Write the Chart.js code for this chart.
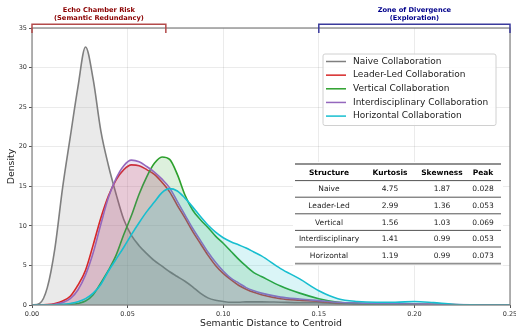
<!DOCTYPE html>
<html>
<head>
<meta charset="utf-8">
<script src="https://cdn.jsdelivr.net/npm/chart.js@4.4.1/dist/chart.umd.min.js"></script>
<style>
  html, body { margin: 0; padding: 0; background: #fff; }
  #wrap { width: 516px; height: 331px; }
</style>
</head>
<body>
<div id="wrap"><canvas id="kdeChart" width="516" height="331"></canvas></div>
<script>
// 横轴取样点 (语义距离)
const distances = [0, 0.004, 0.008, 0.012, 0.016, 0.020, 0.024, 0.028, 0.032, 0.036, 0.040, 0.044, 0.048, 0.052, 0.056, 0.060,
  0.064, 0.068, 0.072, 0.076, 0.080, 0.084, 0.088, 0.092, 0.096, 0.100, 0.104, 0.108, 0.112, 0.116, 0.120,
  0.13, 0.14, 0.15, 0.16, 0.17, 0.18, 0.19, 0.20, 0.21, 0.22, 0.23, 0.24, 0.25];

// 各结构的密度曲线
const naive = [0, 0.2, 2.2, 7.2, 14.8, 21.2, 27.5, 32.6, 28.5, 22.0, 17.6, 14.0, 10.8, 8.8, 7.5, 6.5,
  5.6, 4.9, 4.2, 3.6, 3.0, 2.3, 1.5, 0.9, 0.6, 0.45, 0.35, 0.35, 0.4, 0.4, 0.4,
  0.35, 0.3, 0.3, 0.15, 0.1, 0.1, 0.1, 0.1, 0.05, 0.02, 0, 0, 0];
const leaderLed = [0, 0, 0.05, 0.2, 0.5, 1.1, 2.5, 4.4, 7.6, 11.0, 13.8, 15.8, 17.1, 17.7, 17.6, 17.1,
  16.5, 15.5, 14.3, 12.6, 11.0, 9.3, 7.8, 6.3, 5.0, 4.0, 3.2, 2.5, 2.0, 1.6, 1.3,
  0.8, 0.6, 0.45, 0.3, 0.2, 0.15, 0.12, 0.1, 0.08, 0.05, 0.02, 0, 0];
const vertical = [0, 0, 0, 0, 0.02, 0.08, 0.2, 0.5, 1.3, 2.8, 4.4, 6.3, 8.9, 11.3, 14.0, 16.2,
  17.9, 18.7, 18.4, 16.5, 13.9, 12.0, 10.8, 9.8, 8.7, 7.8, 6.8, 5.8, 4.9, 4.1, 3.6,
  2.4, 1.5, 0.8, 0.35, 0.2, 0.12, 0.08, 0.05, 0.03, 0.02, 0, 0, 0];
const interdisciplinary = [0, 0, 0.02, 0.1, 0.3, 0.8, 1.9, 3.8, 6.6, 10.2, 13.6, 16.0, 17.6, 18.3, 18.1, 17.5,
  16.8, 15.9, 14.8, 13.1, 11.4, 9.7, 8.2, 6.7, 5.4, 4.3, 3.4, 2.8, 2.2, 1.8, 1.5,
  1.0, 0.75, 0.55, 0.35, 0.25, 0.2, 0.15, 0.12, 0.1, 0.05, 0.02, 0, 0];
const horizontal = [0, 0, 0, 0.02, 0.08, 0.2, 0.4, 0.8, 1.5, 2.6, 4.3, 5.8, 7.3, 8.9, 10.4, 11.8,
  13.0, 14.2, 14.7, 14.4, 13.5, 12.4, 11.2, 10.1, 9.2, 8.5, 8.0, 7.6, 7.2, 6.7, 6.2,
  4.6, 3.3, 1.8, 0.8, 0.45, 0.35, 0.35, 0.45, 0.3, 0.1, 0.03, 0, 0];

const seriesNames = ['Naive Collaboration', 'Leader-Led Collaboration', 'Vertical Collaboration',
  'Interdisciplinary Collaboration', 'Horizontal Collaboration'];
const seriesValues = [naive, leaderLed, vertical, interdisciplinary, horizontal];
const seriesColors = ['#7f7f7f', '#d62728', '#2ca02c', '#9467bd', '#17becf'];

// 刻度
const xTicks = [0, 0.05, 0.10, 0.15, 0.20, 0.25];
const yTicks = [0, 5, 10, 15, 20, 25, 30, 35];

// 统计表
const tableHeader = ['Structure', 'Kurtosis', 'Skewness', 'Peak'];
const tableStructure = ['Naive', 'Leader-Led', 'Vertical', 'Interdisciplinary', 'Horizontal'];
const tableKurtosis = ['4.75', '2.99', '1.56', '1.41', '1.19'];
const tableSkewness = ['1.87', '1.36', '1.03', '0.99', '0.99'];
const tablePeak = ['0.028', '0.053', '0.069', '0.053', '0.073'];

// 顶部区间标注
const zoneLabels = [['Echo Chamber Risk', '(Semantic Redundancy)'], ['Zone of Divergence', '(Exploration)']];
const zoneRanges = [[0, 0.07], [0.15, 0.25]];
const zoneTextColors = ['#8b0000', '#00008b'];
const zoneLineColors = ['#b34a4a', '#3a3a9c'];

const FONT = "'DejaVu Sans', sans-serif";

function withAlpha(hex, a) {
  const n = parseInt(hex.slice(1), 16);
  return `rgba(${(n >> 16) & 255}, ${(n >> 8) & 255}, ${n & 255}, ${a})`;
}

// 边框、图例、统计表、区间标注
const overlayPlugin = {
  id: 'overlay',
  afterDatasetsDraw(chart) {
    const { ctx, chartArea: area, scales } = chart;
    ctx.save();

    // 边框
    ctx.strokeStyle = '#808080';
    ctx.lineWidth = 1.2;
    ctx.strokeRect(area.left, area.top, area.right - area.left, area.bottom - area.top);

    // 图例
    const lx = area.right - 187, ly = area.top + 26;
    ctx.fillStyle = 'rgba(255,255,255,0.85)';
    ctx.strokeStyle = '#d0d0d0';
    ctx.lineWidth = 1;
    ctx.beginPath();
    ctx.roundRect(lx, ly, 173, 71.5, 2);
    ctx.fill();
    ctx.stroke();
    ctx.font = `9px ${FONT}`;
    ctx.textBaseline = 'middle';
    ctx.textAlign = 'left';
    seriesNames.forEach((name, i) => {
      const y = ly + 7.5 + i * 13.65;
      ctx.strokeStyle = seriesColors[i];
      ctx.lineWidth = 1.5;
      ctx.beginPath();
      ctx.moveTo(lx + 3, y);
      ctx.lineTo(lx + 23, y);
      ctx.stroke();
      ctx.fillStyle = '#222';
      ctx.fillText(name, lx + 30, y);
    });

    // 统计表
    const tx0 = area.left + 263, tx1 = area.left + 469;
    const ty = area.top + 136;
    const rowH = 16.6;
    const colX = [area.left + 297, area.left + 358, area.left + 410, area.left + 451];
    ctx.fillStyle = '#fff';
    ctx.fillRect(tx0 - 2, ty - 2, tx1 - tx0 + 4, rowH * 6 + 4);
    const rows = [tableHeader].concat(tableStructure.map((s, i) =>
      [s, tableKurtosis[i], tableSkewness[i], tablePeak[i]]));
    ctx.textAlign = 'center';
    rows.forEach((row, r) => {
      ctx.font = (r === 0 ? 'bold ' : '') + `7.5px ${FONT}`;
      ctx.fillStyle = r === 0 ? '#000' : '#222';
      row.forEach((cell, c) => ctx.fillText(cell, colX[c], ty + rowH * r + rowH / 2 + 0.5));
    });
    for (let r = 0; r <= 6; r++) {
      const edge = r === 0 || r === 6;
      ctx.strokeStyle = edge ? '#909090' : '#404040';
      ctx.lineWidth = edge ? 1.8 : 0.9;
      ctx.beginPath();
      ctx.moveTo(tx0, ty + rowH * r);
      ctx.lineTo(tx1, ty + rowH * r);
      ctx.stroke();
    }

    // 区间标注
    const x = scales.x;
    zoneRanges.forEach((rg, i) => {
      const x0 = x.getPixelForValue(rg[0]);
      const x1 = x.getPixelForValue(rg[1]);
      const by = area.top - 3.7;
      ctx.strokeStyle = zoneLineColors[i];
      ctx.lineWidth = 1.5;
      ctx.beginPath();
      ctx.moveTo(x0, area.top + 5);
      ctx.lineTo(x0, by);
      ctx.lineTo(x1, by);
      ctx.lineTo(x1, area.top + 5);
      ctx.stroke();
      ctx.fillStyle = zoneTextColors[i];
      ctx.font = `bold 6.7px ${FONT}`;
      ctx.textAlign = 'center';
      const cx = (x0 + x1) / 2;
      zoneLabels[i].forEach((t, k) => ctx.fillText(t, cx, 10.7 + k * 7.6));
    });

    ctx.restore();
  }
};

const datasets = seriesNames.map((name, i) => ({
  label: name,
  data: distances.map((d, k) => ({ x: d, y: seriesValues[i][k] })),
  borderColor: seriesColors[i],
  backgroundColor: withAlpha(seriesColors[i], 0.16),
  borderWidth: 1.6,
  pointRadius: 0,
  fill: 'origin',
  cubicInterpolationMode: 'monotone',
  order: seriesNames.length - i
}));

const gridStyle = {
  color: 'rgba(0,0,0,0.1)',
  lineWidth: 0.8,
  borderDash: [3, 3],
  tickColor: '#555',
  tickLength: 3,
  tickWidth: 1,
  tickBorderDash: []
};

new Chart(document.getElementById('kdeChart'), {
  type: 'line',
  data: { datasets },
  options: {
    responsive: false,
    animation: false,
    layout: { padding: { top: 28, right: 6, left: 0, bottom: 0 } },
    plugins: { legend: { display: false }, tooltip: { enabled: false } },
    scales: {
      x: {
        type: 'linear',
        min: 0,
        max: 0.25,
        afterBuildTicks: s => { s.ticks = xTicks.map(v => ({ value: v })); },
        afterFit: s => { s.height = 26; s.paddingLeft = 0; s.paddingRight = 0; },
        ticks: {
          font: { family: FONT, size: 6.5 },
          color: '#333',
          padding: 2,
          maxRotation: 0,
          callback: v => v.toFixed(2)
        },
        grid: gridStyle,
        border: { display: false },
        title: {
          display: true,
          text: 'Semantic Distance to Centroid',
          font: { family: FONT, size: 9.3 },
          color: '#222',
          padding: { top: 0, bottom: 1.5 }
        }
      },
      y: {
        min: 0,
        max: 35,
        afterBuildTicks: s => { s.ticks = yTicks.map(v => ({ value: v })); },
        afterFit: s => { s.width = 32; s.paddingTop = 0; s.paddingBottom = 0; },
        ticks: {
          font: { family: FONT, size: 6.5 },
          color: '#333',
          padding: 2
        },
        grid: gridStyle,
        border: { display: false },
        title: {
          display: true,
          text: 'Density',
          font: { family: FONT, size: 9.3 },
          color: '#222',
          padding: { top: 6.4, bottom: 0 }
        }
      }
    }
  },
  plugins: [overlayPlugin]
});
</script>
</body>
</html>
